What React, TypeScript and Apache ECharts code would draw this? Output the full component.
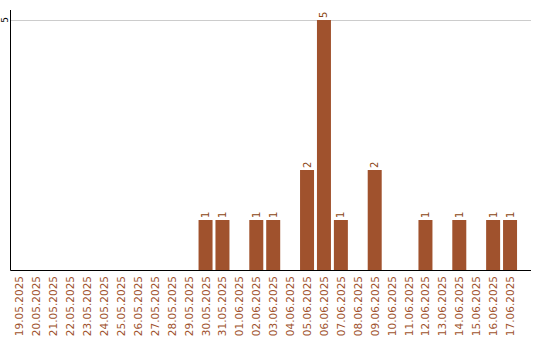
import React, { useEffect, useRef } from "react";
import * as echarts from "echarts";

const categories = [
  "19.05.2025", "20.05.2025", "21.05.2025", "22.05.2025", "23.05.2025",
  "24.05.2025", "25.05.2025", "26.05.2025", "27.05.2025", "28.05.2025",
  "29.05.2025", "30.05.2025", "31.05.2025", "01.06.2025", "02.06.2025",
  "03.06.2025", "04.06.2025", "05.06.2025", "06.06.2025", "07.06.2025",
  "08.06.2025", "09.06.2025", "10.06.2025", "11.06.2025", "12.06.2025",
  "13.06.2025", "14.06.2025", "15.06.2025", "16.06.2025", "17.06.2025",
];
const counts = [
  0, 0, 0, 0, 0, 0, 0, 0, 0, 0,
  0, 1, 1, 0, 1, 1, 0, 2, 5, 1,
  0, 2, 0, 0, 1, 0, 1, 0, 1, 1,
];
const yTicks = [5];

const BAR = "#a0522d";
const FONT = "DejaVu Sans";

export default function App() {
  const ref = useRef<HTMLDivElement>(null);
  useEffect(() => {
    document.body.style.margin = "0";
    const chart = echarts.init(ref.current!, null, { renderer: "svg" });
    chart.setOption({
      animation: false,
      grid: { left: 8.5, top: 10, width: 510, height: 260 },
      xAxis: {
        type: "category",
        data: categories,
        axisLine: { show: false },
        axisTick: { show: false },
        axisLabel: {
          interval: 0,
          rotate: 90,
          color: BAR,
          fontSize: 10.5,
          fontFamily: FONT,
          margin: 6,
        },
      },
      yAxis: {
        type: "value",
        min: 0,
        max: 5.2,
        interval: 5,
        axisLine: { show: false },
        axisTick: { show: false },
        splitLine: { show: false },
        axisLabel: {
          rotate: 90,
          fontSize: 9,
          color: "#000",
          fontFamily: FONT,
          margin: 2,
          formatter: (v: number) => (yTicks.includes(v) ? String(v) : ""),
        },
      },
      series: [
        {
          type: "bar",
          data: counts,
          barWidth: 14,
          itemStyle: { color: BAR },
          label: {
            show: true,
            position: "top",
            rotate: 90,
            align: "left",
            verticalAlign: "middle",
            distance: 2,
            fontSize: 10,
            fontFamily: FONT,
            color: "#8b4513",
            formatter: (p: any) => (p.value ? String(p.value) : ""),
          },
        },
      ],
    });
    const y5 = Math.round(chart.convertToPixel({ yAxisIndex: 0 }, 5) as number) + 0.5;
    const y0 = Math.round(chart.convertToPixel({ yAxisIndex: 0 }, 0) as number) + 0.5;
    const yTop = chart.convertToPixel({ yAxisIndex: 0 }, 5.2) as number;
    const xL = 10.5;
    const xR = 531;
    chart.setOption({
      graphic: [
        { type: "line", shape: { x1: xL, y1: y5, x2: xR, y2: y5 }, style: { stroke: "#cccccc", lineWidth: 1 }, z: 1 },
        { type: "line", shape: { x1: xL, y1: yTop, x2: xL, y2: y0 }, style: { stroke: "#000", lineWidth: 1 }, z: 10 },
        { type: "line", shape: { x1: xL, y1: y0, x2: xR, y2: y0 }, style: { stroke: "#000", lineWidth: 1 }, z: 10 },
      ],
    });
    return () => chart.dispose();
  }, []);
  return <div ref={ref} style={{ width: 540, height: 340 }} />;
}
